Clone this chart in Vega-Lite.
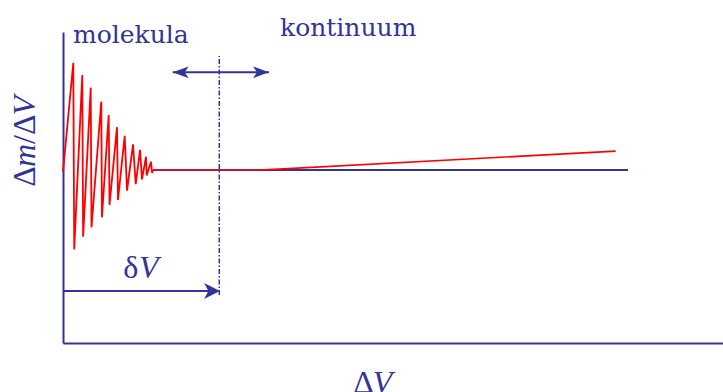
{
  "$schema": "https://vega.github.io/schema/vega-lite/v6.json",
  "width": 660,
  "height": 311,
  "padding": {"left": 63, "top": 32, "right": 0, "bottom": 49},
  "autosize": {"type": "none"},
  "background": "white",
  "config": {"view": {"stroke": null}},
  "datasets": {
    "wave": [
      {"i": 0, "x": 0, "y": 5.5},
      {"i": 1, "x": 0.156, "y": 9.01},
      {"i": 2, "x": 0.17, "y": 3.01},
      {"i": 3, "x": 0.292, "y": 8.62},
      {"i": 4, "x": 0.305, "y": 3.42},
      {"i": 5, "x": 0.42, "y": 8.21},
      {"i": 6, "x": 0.432, "y": 3.72},
      {"i": 7, "x": 0.58, "y": 7.76},
      {"i": 8, "x": 0.59, "y": 4.04},
      {"i": 9, "x": 0.692, "y": 7.33},
      {"i": 10, "x": 0.705, "y": 4.44},
      {"i": 11, "x": 0.818, "y": 6.94},
      {"i": 12, "x": 0.833, "y": 4.6},
      {"i": 13, "x": 0.935, "y": 6.66},
      {"i": 14, "x": 0.97, "y": 4.9},
      {"i": 15, "x": 1.061, "y": 6.39},
      {"i": 16, "x": 1.102, "y": 5.11},
      {"i": 17, "x": 1.167, "y": 6.21},
      {"i": 18, "x": 1.197, "y": 5.26},
      {"i": 19, "x": 1.258, "y": 5.99},
      {"i": 20, "x": 1.268, "y": 5.39},
      {"i": 21, "x": 1.333, "y": 5.83},
      {"i": 22, "x": 1.35, "y": 5.47},
      {"i": 23, "x": 1.364, "y": 5.56}
    ],
    "flat": [{"x": 1.364, "y": 5.56}, {"x": 2.985, "y": 5.56}],
    "ramp": [{"x": 2.985, "y": 5.56}, {"x": 8.374, "y": 6.17}],
    "level": [{"x": 1.364, "y": 5.56}, {"x": 8.561, "y": 5.56}],
    "guide": [{"x": 2.368, "y": 1.54, "y2": 9.23}],
    "spans": [
      {"x": 1.662, "x2": 3.121, "y": 8.704},
      {"x": 0, "x2": 2.35, "y": 1.672}
    ],
    "headsLeft": [{"x": 1.783, "y": 8.704}],
    "headsRight": [{"x": 3.0, "y": 8.704}],
    "headDelta": [{"x": 2.258, "y": 1.672}],
    "words": [
      {"x": 0.152, "y": 9.637, "t": "molekula"},
      {"x": 3.288, "y": 9.871, "t": "kontinuum"}
    ],
    "mathUpright": [
      {"x": 0.914, "y": 2.08, "t": "δ"},
      {"x": 4.398, "y": -1.608, "t": "Δ"}
    ],
    "mathItalic": [
      {"x": 1.152, "y": 2.08, "t": "V"},
      {"x": 4.695, "y": -1.608, "t": "V"}
    ],
    "sideUpright": [
      {"x": -0.424, "y": 5.026, "t": "Δ"},
      {"x": -0.424, "y": 6.399, "t": "/Δ"}
    ],
    "sideItalic": [
      {"x": -0.424, "y": 5.656, "t": "m"},
      {"x": -0.424, "y": 7.315, "t": "V"}
    ]
  },
  "encoding": {
    "x": {
      "field": "x",
      "type": "quantitative",
      "scale": {"domain": [0, 10], "nice": false, "zero": false},
      "axis": {"title": null, "labels": false, "ticks": false, "grid": false, "domainColor": "#333399", "domainWidth": 2}
    },
    "y": {
      "field": "y",
      "type": "quantitative",
      "scale": {"domain": [0, 10], "nice": false, "zero": false},
      "axis": {"title": null, "labels": false, "ticks": false, "grid": false, "domainColor": "#333399", "domainWidth": 2}
    }
  },
  "layer": [
    {
      "data": {"name": "level"},
      "mark": {"type": "line", "color": "#333399", "strokeWidth": 2, "clip": false},
      "encoding": {}
    },
    {
      "data": {"name": "flat"},
      "mark": {"type": "line", "color": "#c41436", "strokeWidth": 2, "clip": false},
      "encoding": {}
    },
    {
      "data": {"name": "wave"},
      "mark": {"type": "line", "color": "#ff0000", "strokeWidth": 1.8, "clip": false},
      "encoding": {"order": {"field": "i", "type": "quantitative"}}
    },
    {
      "data": {"name": "ramp"},
      "mark": {"type": "line", "color": "#ff0000", "strokeWidth": 1.6, "clip": false},
      "encoding": {}
    },
    {
      "data": {"name": "guide"},
      "mark": {"type": "rule", "color": "#333399", "strokeWidth": 1.5, "strokeDash": [5, 2, 1.5, 2]},
      "encoding": {"y2": {"field": "y2"}}
    },
    {
      "data": {"name": "spans"},
      "mark": {"type": "rule", "color": "#333399", "strokeWidth": 2},
      "encoding": {"x2": {"field": "x2"}}
    },
    {
      "data": {"name": "headsLeft"},
      "mark": {"type": "point", "shape": "M1,0 L-1,-0.73 L-0.5,0 L-1,0.73 Z", "size": 256, "angle": 180, "filled": true, "color": "#333399", "opacity": 1},
      "encoding": {}
    },
    {
      "data": {"name": "headsRight"},
      "mark": {"type": "point", "shape": "M1,0 L-1,-0.73 L-0.5,0 L-1,0.73 Z", "size": 256, "filled": true, "color": "#333399", "opacity": 1},
      "encoding": {}
    },
    {
      "data": {"name": "headDelta"},
      "mark": {"type": "point", "shape": "M1,0 L-1,-1 L-0.45,0 L-1,1 Z", "size": 256, "filled": true, "color": "#333399", "opacity": 1},
      "encoding": {}
    },
    {
      "data": {"name": "words"},
      "mark": {"type": "text", "font": "DejaVu Serif", "fontSize": 25, "align": "left", "baseline": "alphabetic", "color": "#333399"},
      "encoding": {"text": {"field": "t"}}
    },
    {
      "data": {"name": "mathUpright"},
      "mark": {"type": "text", "font": "Liberation Serif", "fontSize": 32, "align": "left", "baseline": "alphabetic", "color": "#333399"},
      "encoding": {"text": {"field": "t"}}
    },
    {
      "data": {"name": "mathItalic"},
      "mark": {"type": "text", "font": "Liberation Serif", "fontSize": 32, "fontStyle": "italic", "align": "left", "baseline": "alphabetic", "color": "#333399"},
      "encoding": {"text": {"field": "t"}}
    },
    {
      "data": {"name": "sideUpright"},
      "mark": {"type": "text", "font": "Liberation Serif", "fontSize": 32, "angle": 270, "align": "left", "baseline": "alphabetic", "color": "#333399"},
      "encoding": {"text": {"field": "t"}}
    },
    {
      "data": {"name": "sideItalic"},
      "mark": {"type": "text", "font": "Liberation Serif", "fontSize": 32, "fontStyle": "italic", "angle": 270, "align": "left", "baseline": "alphabetic", "color": "#333399"},
      "encoding": {"text": {"field": "t"}}
    }
  ]
}
